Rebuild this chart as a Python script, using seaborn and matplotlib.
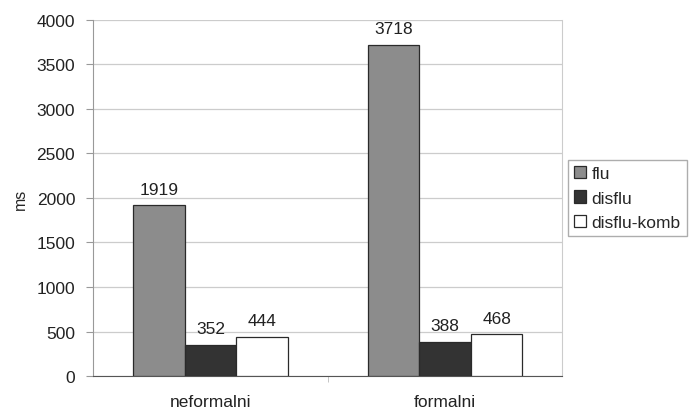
import pandas as pd
import numpy as np
import matplotlib
matplotlib.use("Agg")
import matplotlib.pyplot as plt
import seaborn as sns

# data
groups = ["neformalni", "formalni"]
series = ["flu", "disflu", "disflu-komb"]
flu = [1919, 3718]
disflu = [352, 388]
disflu_komb = [444, 468]

rows = []
for i, g in enumerate(groups):
    rows.append((g, "flu", flu[i]))
    rows.append((g, "disflu", disflu[i]))
    rows.append((g, "disflu-komb", disflu_komb[i]))
df = pd.DataFrame(rows, columns=["group", "series", "ms"])

sns.set_style("white")
plt.rcParams["font.family"] = ["Liberation Sans", "DejaVu Sans"]
fs = 12.5

fig = plt.figure(figsize=(6.96, 4.14), dpi=100)
ax = fig.add_axes([0.134, 0.089, 0.674, 0.861])

palette = {"flu": "#8c8c8c", "disflu": "#333333", "disflu-komb": "#ffffff"}
sns.barplot(data=df, x="group", y="ms", hue="series", hue_order=series,
            order=groups, palette=palette, width=0.66, edgecolor="#2a2a2a",
            linewidth=0.9, saturation=1, ax=ax, zorder=3)

for c in ax.containers:
    ax.bar_label(c, fmt="%d", padding=6, fontsize=fs, color="#222222")

ax.set_ylim(0, 4000)
ax.set_xlim(-0.5, 1.5)
ax.set_yticks(np.arange(0, 4001, 500))
ax.yaxis.grid(True, color="#cccccc", linewidth=0.9, zorder=0)
ax.set_xlabel("")
ax.set_ylabel("ms", fontsize=fs - 1, labelpad=6)
ax.tick_params(axis="y", length=5, width=0.8, color="#999999", direction="out",
               left=True, labelsize=fs, pad=8, labelcolor="#222222")
ax.tick_params(axis="x", length=0, labelsize=fs, pad=13, labelcolor="#222222")
ax.set_xticks([0.5], minor=True)
ax.tick_params(axis="x", which="minor", length=4, color="#bbbbbb", bottom=True)

ax.spines["top"].set_visible(False)
ax.spines["right"].set_color("#cccccc")
ax.spines["left"].set_color("#999999")
ax.spines["bottom"].set_color("#555555")

ax.legend(loc="center left", bbox_to_anchor=(1.005, 0.5), frameon=True,
          fancybox=False, edgecolor="#999999", fontsize=fs, handlelength=0.7,
          handleheight=0.7, handletextpad=0.3, labelspacing=0.55, borderpad=0.35,
          borderaxespad=0.2)

fig.savefig("out.png", dpi=100)
